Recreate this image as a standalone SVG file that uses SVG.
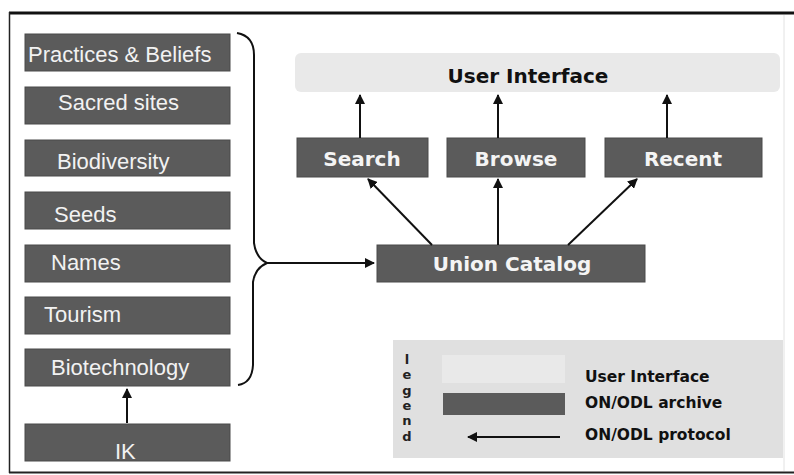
<svg xmlns="http://www.w3.org/2000/svg" width="794" height="475" viewBox="0 0 794 475">
<style>
.box{fill:#5b5b5b;stroke:#4a4a4a;stroke-width:1}
.lt{font-family:"Liberation Sans",Arial,sans-serif;font-size:22px;fill:#f2f2f2}
.bt{font-family:"DejaVu Sans",Verdana,sans-serif;font-weight:bold;font-size:20px;fill:#f4f4f4;text-anchor:middle}
.lg{font-family:"DejaVu Sans",Verdana,sans-serif;font-weight:bold;font-size:15.5px;fill:#111}
.conn{stroke:#111;stroke-width:2;fill:none}
</style>
<defs>
<marker id="ah" viewBox="0 0 10 10" refX="9" refY="5" markerWidth="5" markerHeight="5" orient="auto" markerUnits="strokeWidth">
<path d="M0,0 L10,5 L0,10 Z" fill="#111"/>
</marker>
</defs>
<rect x="0" y="0" width="794" height="475" fill="#fff"/>
<g id="frame">
<line x1="9" y1="13" x2="794" y2="13" stroke="#111" stroke-width="3"/>
<line x1="9.5" y1="12" x2="9.5" y2="473" stroke="#222" stroke-width="1.5"/>
<line x1="9" y1="472.5" x2="794" y2="472.5" stroke="#222" stroke-width="2"/>
<line x1="784" y1="15" x2="784" y2="471" stroke="#e2e2e2" stroke-width="1"/>
</g>
<g id="ui-band">
<rect x="295" y="53" width="485" height="39" rx="6" fill="#e9e9e9"/>
<text x="528" y="83" font-family="DejaVu Sans, Verdana, sans-serif" font-weight="bold" font-size="20" fill="#111" text-anchor="middle">User Interface</text>
</g>
<g id="practices"><rect class="box" x="25" y="34" width="205" height="37"/><text class="lt" x="28" y="62">Practices &amp; Beliefs</text></g>
<g id="sacred"><rect class="box" x="25" y="87" width="205" height="37"/><text class="lt" x="58" y="110">Sacred sites</text></g>
<g id="biodiversity"><rect class="box" x="25" y="140" width="205" height="36"/><text class="lt" x="57" y="169">Biodiversity</text></g>
<g id="seeds"><rect class="box" x="25" y="192" width="205" height="37"/><text class="lt" x="54" y="222">Seeds</text></g>
<g id="names"><rect class="box" x="25" y="245" width="205" height="37"/><text class="lt" x="51" y="270">Names</text></g>
<g id="tourism"><rect class="box" x="25" y="297" width="205" height="37"/><text class="lt" x="44" y="322">Tourism</text></g>
<g id="biotech"><rect class="box" x="25" y="349" width="205" height="37"/><text class="lt" x="51" y="375">Biotechnology</text></g>
<g id="ik"><rect class="box" x="25" y="424" width="205" height="37"/><text class="lt" x="115" y="459">IK</text></g>
<g id="search"><rect class="box" x="297" y="138" width="131" height="39"/><text class="bt" x="362" y="166">Search</text></g>
<g id="browse"><rect class="box" x="447" y="138" width="138" height="39"/><text class="bt" x="516" y="166">Browse</text></g>
<g id="recent"><rect class="box" x="605" y="138" width="157" height="39"/><text class="bt" x="683" y="166">Recent</text></g>
<g id="union"><rect class="box" x="377" y="245" width="268" height="37"/><text class="bt" x="512" y="271">Union Catalog</text></g>
<g id="legend">
<rect x="393" y="340" width="390" height="118" fill="#e0e0e0"/>
<rect x="442" y="355" width="123" height="28" fill="#e9e9e9"/>
<rect x="443" y="393" width="122" height="22" fill="#5b5b5b"/>
<text font-family="DejaVu Sans, Verdana, sans-serif" font-weight="bold" font-size="13" fill="#222" text-anchor="middle"><tspan x="407" y="364">l</tspan><tspan x="407" y="379">e</tspan><tspan x="407" y="395">g</tspan><tspan x="407" y="410">e</tspan><tspan x="407" y="425">n</tspan><tspan x="407" y="441">d</tspan></text>
<text class="lg" x="585" y="382">User Interface</text>
<text class="lg" x="585" y="408">ON/ODL archive</text>
<text class="lg" x="585" y="440">ON/ODL protocol</text>
</g>
<g id="connectors">
<path class="conn" stroke-width="1.6" d="M237,33 Q254,36 254,55 L254,243 Q256,258 267,263 Q255,268 253,282 L253,365 Q252,383 238,385"/>
<line class="conn" x1="267" y1="263" x2="374" y2="263" marker-end="url(#ah)"/>
<line class="conn" x1="127" y1="423" x2="127" y2="389" marker-end="url(#ah)"/>
<line class="conn" x1="360" y1="138" x2="360" y2="95" marker-end="url(#ah)"/>
<line class="conn" x1="498" y1="138" x2="498" y2="95" marker-end="url(#ah)"/>
<line class="conn" x1="667" y1="138" x2="667" y2="95" marker-end="url(#ah)"/>
<line class="conn" x1="432" y1="245" x2="368" y2="179" marker-end="url(#ah)"/>
<line class="conn" x1="498" y1="245" x2="498" y2="179" marker-end="url(#ah)"/>
<line class="conn" x1="568" y1="245" x2="637" y2="179" marker-end="url(#ah)"/>
<line class="conn" x1="560" y1="437" x2="468" y2="437" marker-end="url(#ah)"/>
</g>
</svg>
